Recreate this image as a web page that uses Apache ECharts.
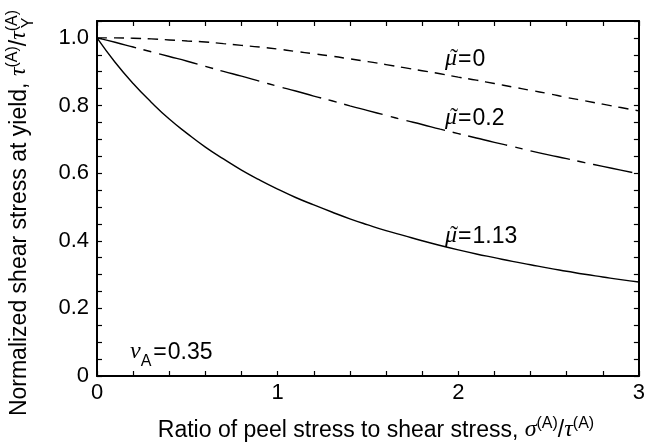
<!DOCTYPE html>
<html>
<head>
<meta charset="utf-8">
<script src="https://cdn.jsdelivr.net/npm/echarts@6/dist/echarts.min.js"></script>
<style>
  html, body { margin: 0; padding: 0; background: #fff; }
  #chart { width: 648px; height: 444px; }
</style>
</head>
<body>
<div id="chart"></div>
<script>
// Peel-to-shear stress ratio sampled along the x axis
const ratio = [0, 0.1, 0.2, 0.3, 0.4, 0.5, 0.6, 0.7, 0.8, 0.9, 1.0,
               1.1, 1.2, 1.3, 1.4, 1.5, 1.6, 1.7, 1.8, 1.9, 2.0,
               2.1, 2.2, 2.3, 2.4, 2.5, 2.6, 2.7, 2.8, 2.9, 3.0];

// Normalized shear stress at yield for each friction coefficient
const yieldMu0 = [1.000, 1.000, 0.999, 0.997, 0.994, 0.991, 0.988, 0.983, 0.978, 0.973, 0.967,
                  0.960, 0.953, 0.946, 0.938, 0.930, 0.921, 0.912, 0.903, 0.894, 0.884,
                  0.875, 0.865, 0.855, 0.845, 0.835, 0.824, 0.814, 0.804, 0.794, 0.784];
const yieldMu02 = [1.000, 0.987, 0.973, 0.959, 0.945, 0.931, 0.916, 0.901, 0.887, 0.872, 0.857,
                   0.843, 0.828, 0.814, 0.799, 0.785, 0.771, 0.757, 0.744, 0.730, 0.717,
                   0.704, 0.691, 0.679, 0.666, 0.654, 0.643, 0.631, 0.620, 0.609, 0.598];
const yieldMu113 = [1.000, 0.928, 0.865, 0.810, 0.760, 0.717, 0.677, 0.642, 0.609, 0.580, 0.553,
                    0.528, 0.506, 0.485, 0.465, 0.447, 0.430, 0.415, 0.400, 0.386, 0.373,
                    0.361, 0.350, 0.339, 0.329, 0.319, 0.310, 0.301, 0.293, 0.285, 0.278];

const xTickLabels = ['0', '1', '2', '3'];
const yTickLabels = ['0', '0.2', '0.4', '0.6', '0.8', '1.0'];

const SANS = '"Liberation Sans", Arial, Helvetica, sans-serif';
const SERIF = '"Liberation Serif", "Times New Roman", serif';
const TICK_FONT = 22;
const TEXT_FONT = 23;
const SUP_FONT = 16;

const chart = echarts.init(document.getElementById('chart'), null, { renderer: 'canvas' });

function pairs(ys) {
  return ratio.map((x, i) => [x, ys[i]]);
}

// Lay out a run of text fragments on a common baseline (used for the
// titles and annotations that mix Greek italics, superscripts and subscripts)
const measureCtx = document.createElement('canvas').getContext('2d');
function fontOf(p) {
  return (p.italic ? 'italic ' : '') + p.size + 'px ' + (p.family || SANS);
}
function textRun(parts) {
  let x = 0;
  let prevStart = 0, prevWidth = 0;
  const children = [];
  for (const p of parts) {
    const font = fontOf(p);
    measureCtx.font = font;
    const w = measureCtx.measureText(p.text).width;
    // "accent" fragments are centred over the previous glyph
    const px = p.accent ? prevStart + prevWidth / 2 + (p.dx || 0) : x + (p.dx || 0);
    children.push({
      type: 'text',
      x: px,
      y: p.dy || 0,
      style: {
        text: p.text, font: font, fill: '#000',
        align: p.accent ? 'center' : 'left', verticalAlign: 'bottom'
      }
    });
    if (!p.overlay && !p.accent) {
      prevStart = x; prevWidth = w;
      x += w + (p.gap || 0);
    }
  }
  return { children, width: x };
}

function place(run, x, y, opts) {
  opts = opts || {};
  const offset = opts.center ? -run.width / 2 : 0;
  return {
    type: 'group',
    x: x,
    y: y,
    rotation: opts.rotation || 0,
    children: run.children.map(c => Object.assign({}, c, { x: c.x + offset }))
  };
}

function yLabel(v) {
  const k = Math.round(v * 100);
  if (k % 20 !== 0) return '';
  return yTickLabels[k / 20] || '';
}

const axisLineStyle = { color: '#000', width: 2 };
const tickStyle = { color: '#000', width: 1.2 };

const option = {
  backgroundColor: '#fff',
  animation: false,
  grid: { left: 97, right: 5, top: 21, bottom: 68, containLabel: false },
  xAxis: [
    {
      type: 'value', min: 0, max: 3, interval: 1, position: 'bottom',
      axisLine: { show: true, onZero: false, lineStyle: axisLineStyle },
      axisTick: { show: true, inside: true, length: 5, lineStyle: tickStyle },
      minorTick: { show: true, splitNumber: 5, length: 5, lineStyle: tickStyle },
      splitLine: { show: false },
      axisLabel: {
        show: true, margin: 6, color: '#000', fontFamily: SANS, fontSize: TICK_FONT,
        formatter: v => xTickLabels[Math.round(v)] || ''
      }
    },
    {
      type: 'value', min: 0, max: 3, interval: 1, position: 'top',
      axisLine: { show: true, onZero: false, lineStyle: axisLineStyle },
      axisTick: { show: true, inside: true, length: 5, lineStyle: tickStyle },
      minorTick: { show: true, splitNumber: 5, length: 5, lineStyle: tickStyle },
      splitLine: { show: false },
      axisLabel: { show: false }
    }
  ],
  yAxis: [
    {
      type: 'value', min: 0, max: 1.05, interval: 0.05, position: 'left',
      axisLine: { show: true, onZero: false, lineStyle: axisLineStyle },
      axisTick: { show: true, inside: true, length: 5, lineStyle: tickStyle },
      splitLine: { show: false },
      axisLabel: {
        show: true, margin: 8, color: '#000', fontFamily: SANS, fontSize: TICK_FONT,
        formatter: yLabel
      }
    },
    {
      type: 'value', min: 0, max: 1.05, interval: 0.05, position: 'right',
      axisLine: { show: true, onZero: false, lineStyle: axisLineStyle },
      axisTick: { show: true, inside: true, length: 5, lineStyle: tickStyle },
      splitLine: { show: false },
      axisLabel: { show: false }
    }
  ],
  series: [
    {
      name: 'mu0', type: 'line', xAxisIndex: 0, yAxisIndex: 0,
      data: pairs(yieldMu0), showSymbol: false, smooth: true,
      lineStyle: { color: '#000', width: 1.4, type: [10, 7] }
    },
    {
      name: 'mu02', type: 'line', xAxisIndex: 0, yAxisIndex: 0,
      data: pairs(yieldMu02), showSymbol: false, smooth: true,
      lineStyle: { color: '#000', width: 1.4, type: [40, 8, 8, 8] }
    },
    {
      name: 'mu113', type: 'line', xAxisIndex: 0, yAxisIndex: 0,
      data: pairs(yieldMu113), showSymbol: false, smooth: true,
      lineStyle: { color: '#000', width: 1.4, type: 'solid' }
    }
  ]
};

chart.setOption(option);

// Titles and annotations
function muLabel(value) {
  return textRun([
    { text: 'μ', size: TEXT_FONT + 1, italic: true, family: SERIF, gap: 1 },
    { text: '˜', size: TEXT_FONT, family: SERIF, accent: true, dx: 3, dy: -1 },
    { text: '=', size: TEXT_FONT, gap: 1 },
    { text: value, size: TEXT_FONT }
  ]);
}

const xTitle = textRun([
  { text: 'Ratio of peel stress to shear stress, ', size: TEXT_FONT },
  { text: 'σ', size: TEXT_FONT + 1, italic: true, family: SERIF },
  { text: '(A)', size: SUP_FONT, dy: -10 },
  { text: '/', size: TEXT_FONT },
  { text: 'τ', size: TEXT_FONT + 1, italic: true, family: SERIF },
  { text: '(A)', size: SUP_FONT, dy: -10 }
]);

const yTitle = textRun([
  { text: 'Normalized shear stress at yield, ', size: TEXT_FONT },
  { text: 'τ', size: TEXT_FONT + 1, italic: true, family: SERIF },
  { text: '(A)', size: SUP_FONT, dy: -10 },
  { text: '/', size: TEXT_FONT },
  { text: 'τ', size: TEXT_FONT + 1, italic: true, family: SERIF },
  { text: 'Y', size: SUP_FONT, dy: 6, overlay: true, dx: 3 },
  { text: '(A)', size: SUP_FONT, dy: -10 }
]);

const nuLabel = textRun([
  { text: 'ν', size: TEXT_FONT + 1, italic: true, family: SERIF },
  { text: 'A', size: SUP_FONT, dy: 6, gap: 2 },
  { text: '=', size: TEXT_FONT, gap: 1 },
  { text: '0.35', size: TEXT_FONT }
]);

chart.setOption({
  graphic: [
    place(xTitle, 376, 442, { center: true }),
    place(yTitle, 31, 213, { center: true, rotation: Math.PI / 2 }),
    place(muLabel('0'), 445, 71),
    place(muLabel('0.2'), 445, 130),
    place(muLabel('1.13'), 445, 248),
    place(nuLabel, 130, 364)
  ]
});
</script>
</body>
</html>
